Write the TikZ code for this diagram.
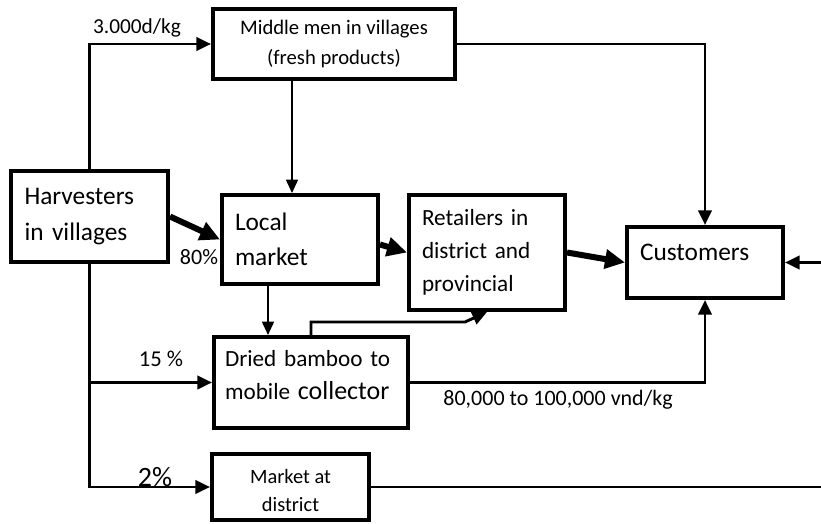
\documentclass[tikz,border=0pt]{standalone}
\usepackage{fontspec}
\setmainfont{Carlito}
\usepackage{tikz}
\usetikzlibrary{arrows.meta, positioning, calc}

\tikzset{
  box/.style={draw, line width=3pt, inner sep=0pt},
  leftbox/.style={box, align=left, text width=97.5pt},
  conn/.style={line width=2.2pt, -{Triangle[length=11pt,width=10pt]}},
  thinconn/.style={line width=1.2pt, -{Triangle[length=10pt,width=9pt]}},
  fatarrow/.style={line width=4.5pt, -{Triangle[length=15pt,width=14pt]}},
  plain/.style={line width=2.2pt},
  lbl/.style={inner sep=0pt}
}

\begin{document}
\begin{tikzpicture}[x=0.75pt, y=-0.75pt]
\useasboundingbox (0,0) rectangle (821,524);

% Boxes
\node[leftbox, minimum width=117.75pt, minimum height=68.25pt, font=\fontsize{19}{27}\selectfont] (harv) at (89.5,216.5) {Harvesters\\in villages};
\node[box, align=center, minimum width=181.5pt, minimum height=52.5pt, font=\fontsize{15.5}{22.5}\selectfont] (middle) at (334,44) {Middle men in villages\\(fresh products)};
\node[leftbox, minimum width=117pt, minimum height=66.75pt, font=\fontsize{19}{26.25}\selectfont] (local) at (300,239.5) {Local\\market};
\node[leftbox, minimum width=117pt, minimum height=86.25pt, font=\fontsize{17.4}{24.75}\selectfont] (retail) at (487,252.5) {Retailers in\\district and\\provincial};
\node[leftbox, minimum width=117pt, minimum height=53.25pt, font=\fontsize{19}{26}\selectfont] (cust) at (705,262.5) {\raisebox{7.5pt}[\height][\depth]{Customers}};
\node[leftbox, text width=129pt, minimum width=145.5pt, minimum height=68.25pt, font=\fontsize{17.4}{24.75}\selectfont] (dried) at (311,382.5)
  {\raisebox{4.5pt}[\height][\depth]{\begin{tabular}{@{}l@{}}Dried bamboo to\\mobile {\fontsize{19.5}{24.75}\selectfont collector}\end{tabular}}};
\node[box, align=center, minimum width=117.75pt, minimum height=49.5pt, font=\fontsize{15.3}{21}\selectfont] (market) at (290.5,487) {\raisebox{-2.5pt}[\height][\depth]{Market at}\\\raisebox{-2.5pt}[\height][\depth]{district}};

% Labels
\node[lbl, font=\fontsize{16}{19}\selectfont] (pricetop) at (137,28) {3.000d/kg};
\node[lbl, font=\fontsize{16.5}{20}\selectfont] (pctlocal) at (199,257) {80\%};
\node[lbl, font=\fontsize{17}{20}\selectfont] (pctdried) at (161,359) {15 \%};
\node[lbl, font=\fontsize{21}{24}\selectfont] (pctmarket) at (155,477) {2\%};
\node[lbl, font=\fontsize{16.5}{20}\selectfont] (pricedried) at (558,400) {80,000 to 100,000 vnd/kg};

% Helper points
\coordinate (colm) at (292,0);
\coordinate (coll) at (268,0);
\coordinate (kink) at (465,322);
\coordinate (outright) at (821,262.5);
\coordinate (outbot) at (821,487);

% Connectors
\draw[conn] (harv.north) |- (middle.west);
\draw[thinconn] (middle.south -| colm) -- (local.north -| colm);
\draw[conn] (middle.east) -| (cust.north);
\draw[fatarrow] (harv.east) -- (local.west);
\draw[fatarrow] ([yshift=-3.75pt]local.east) -- (retail.west);
\draw[fatarrow] (retail.east) -- (cust.west);
\draw[thinconn] (local.south -| coll) -- (dried.north -| coll);
\draw[conn] (dried.north) |- (kink) -- (retail.south);
\draw[conn] (harv.south) |- (market.west);
\draw[conn] (harv.south |- dried.west) -- (dried.west);
\draw[conn] (dried.east) -| (cust.south);
\draw[plain] (market.east) -- (outbot);
\draw[conn] (outright) -- (cust.east);
\end{tikzpicture}
\end{document}
